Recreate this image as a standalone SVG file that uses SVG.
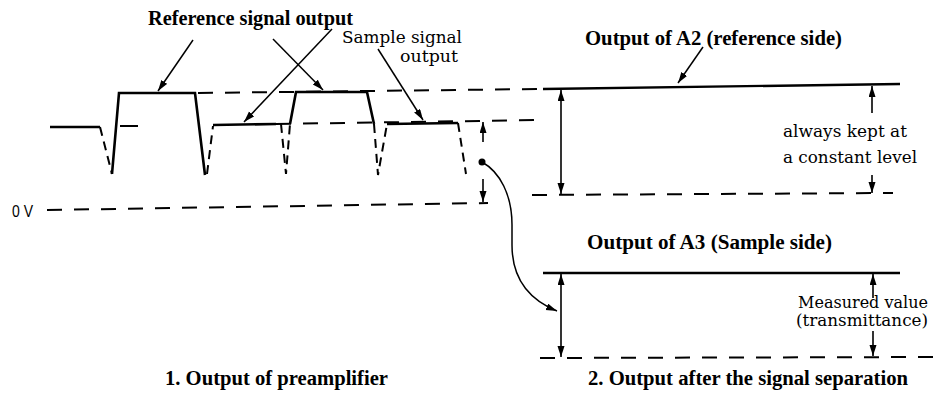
<svg xmlns="http://www.w3.org/2000/svg" width="936" height="396" viewBox="0 0 936 396">
<defs>
<marker id="ah" markerWidth="12" markerHeight="8" refX="11" refY="3.5" orient="auto-start-reverse" markerUnits="userSpaceOnUse"><path d="M0,0 L11,3.5 L0,7 Z" fill="#000"/></marker>
<style>
.sig{fill:none;stroke:#000;stroke-width:2.6;stroke-linejoin:miter}
.hid{fill:none;stroke:#000;stroke-width:2;stroke-dasharray:9 6}
.lvl{fill:none;stroke:#000;stroke-width:2;stroke-dasharray:15 12}
.sol{fill:none;stroke:#000;stroke-width:2.4}
.dim{fill:none;stroke:#000;stroke-width:1.6}
.lead{fill:none;stroke:#000;stroke-width:1.5;marker-end:url(#ah)}
.b{font-family:"Liberation Serif","Times New Roman",serif;font-weight:bold;font-size:20px;fill:#000}
.r{font-family:"DejaVu Serif","Liberation Serif",serif;font-size:16px;fill:#000}
.s{font-family:"Liberation Sans",Arial,sans-serif;font-size:16px;fill:#000}
</style>
</defs>
<rect width="936" height="396" fill="#fff"/>

<g id="preamp-waveform">
<path class="sig" d="M50,127 L100,127"/>
<path class="sig" d="M112,174 L119,93 L195,93 L205,175"/>
<path class="sig" d="M213,125 L276,124"/>
<path class="sig" d="M290,124 L296,92 L367,92 L374,124"/>
<path class="sig" d="M387,124 L458,123"/>
<path class="hid" d="M100,127 L112,174"/>
<path class="hid" d="M207,174 L213,126"/>
<path class="hid" d="M281,124 L286,174 L290,124"/>
<path class="hid" d="M374,124 L378,175 L387,124"/>
<path class="hid" d="M458,123 L466,174"/>
<path class="lvl" d="M198,93 L540,89"/>
<path class="sol" d="M120,126 L138,126" style="stroke-width:2"/>
<path class="lvl" d="M276,124 L540,120"/>
<path class="lvl" d="M47,210 L488,203"/>
<circle cx="482" cy="162" r="3.5" fill="#000"/>
</g>

<g id="a2-output">
<path class="sol" d="M543,89 L900,84"/>
<path class="lvl" d="M532,195 L893,193"/>
</g>

<g id="a3-output">
<path class="sol" d="M543,273 L900,273"/>
<path class="lvl" d="M540,358 L936,357"/>
</g>

<g id="connectors">
<path class="lead" d="M193,40 L158,91"/>
<path class="lead" d="M273,39 L323,90"/>
<path class="lead" d="M332,29 L244,122"/>
<path class="lead" d="M378,49 L423,120"/>
<path class="lead" d="M703,47 L678,83"/>
<path class="lead" d="M482,162 C500,172 512,195 512,225 L512,245 C512,280 530,300 557,311"/>
<path class="dim" d="M483,142 L483,122" marker-end="url(#ah)"/>
<path class="dim" d="M483,179 L483,202" marker-end="url(#ah)"/>
<path class="dim" d="M561,90 L561,194" marker-start="url(#ah)" marker-end="url(#ah)"/>
<path class="dim" d="M872,113 L872,86" marker-end="url(#ah)"/>
<path class="dim" d="M872,175 L872,193" marker-end="url(#ah)"/>
<path class="dim" d="M561,274 L561,357" marker-start="url(#ah)" marker-end="url(#ah)"/>
<path class="dim" d="M873,298 L873,274" marker-end="url(#ah)"/>
<path class="dim" d="M873,331 L873,356" marker-end="url(#ah)"/>
</g>

<g id="labels">
<text class="b" x="148" y="25" textLength="205" lengthAdjust="spacingAndGlyphs">Reference signal output</text>
<text class="r" x="342" y="43" textLength="120" lengthAdjust="spacingAndGlyphs">Sample signal</text>
<text class="r" x="400" y="62" textLength="58" lengthAdjust="spacingAndGlyphs">output</text>
<text class="s" x="12" y="217" textLength="21" lengthAdjust="spacingAndGlyphs">0 V</text>
<text class="b" x="585" y="45" textLength="257" lengthAdjust="spacingAndGlyphs">Output of A2 (reference side)</text>
<text class="r" x="783" y="137" textLength="124" lengthAdjust="spacingAndGlyphs">always kept at</text>
<text class="r" x="783" y="163" textLength="134" lengthAdjust="spacingAndGlyphs">a constant level</text>
<text class="b" x="587" y="249" textLength="245" lengthAdjust="spacingAndGlyphs">Output of A3 (Sample side)</text>
<text class="r" x="798" y="308" textLength="130" lengthAdjust="spacingAndGlyphs">Measured value</text>
<text class="r" x="796" y="326" textLength="132" lengthAdjust="spacingAndGlyphs">(transmittance)</text>
<text class="b" x="165" y="385" textLength="223" lengthAdjust="spacingAndGlyphs">1. Output of preamplifier</text>
<text class="b" x="588" y="385" textLength="320" lengthAdjust="spacingAndGlyphs">2. Output after the signal separation</text>
</g>
</svg>
